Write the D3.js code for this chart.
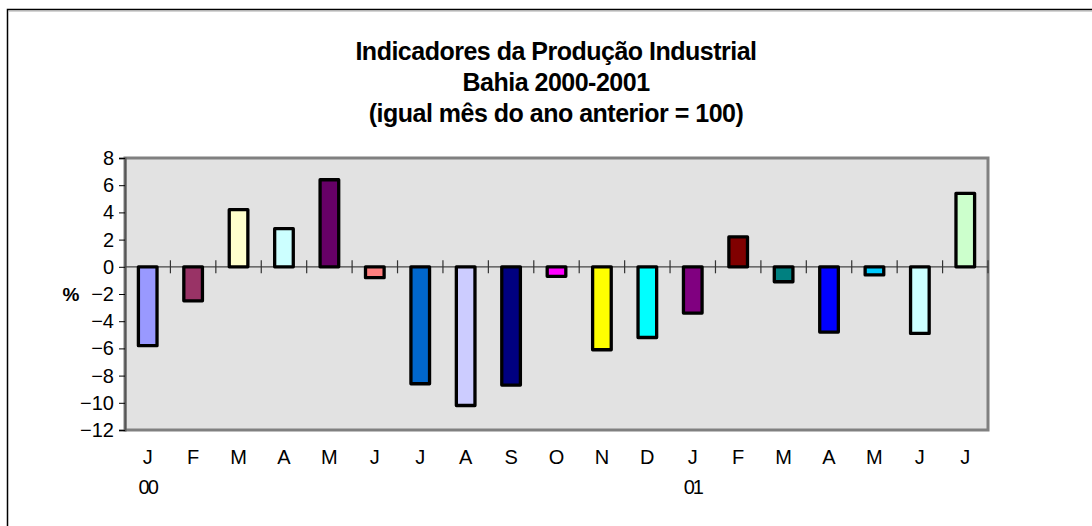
<!DOCTYPE html>
<html>
<head>
<meta charset="utf-8">
<script src="https://cdnjs.cloudflare.com/ajax/libs/d3/7.8.5/d3.min.js"></script>
<style>
  body { margin: 0; background: #fff; }
  text { font-family: Arial, "Liberation Sans", sans-serif; }
</style>
</head>
<body>
<div id="chart"></div>
<script>
// Data
const months = ["J", "F", "M", "A", "M", "J", "J", "A", "S", "O", "N", "D",
                "J", "F", "M", "A", "M", "J", "J"];
const years = ["00", "", "", "", "", "", "", "", "", "", "", "",
               "01", "", "", "", "", "", ""];
const values = [-5.8, -2.5, 4.2, 2.8, 6.4, -0.8, -8.6, -10.2, -8.7, -0.7, -6.1, -5.2,
                -3.4, 2.2, -1.1, -4.8, -0.6, -4.9, 5.4];
const colors = ["#9999FF", "#993366", "#FFFFCC", "#CCFFFF", "#660066", "#FF8080",
                "#0066CC", "#CCCCFF", "#000080", "#FF00FF", "#FFFF00", "#00FFFF",
                "#800080", "#800000", "#008080", "#0000FF", "#00CCFF", "#CCFFFF", "#CCFFCC"];
const yTicks = [8, 6, 4, 2, 0, -2, -4, -6, -8, -10, -12];
const titleLines = ["Indicadores da Produção Industrial", "Bahia 2000-2001",
                    "(igual mês do ano anterior = 100)"];

const width = 1092, height = 526;
const plot = {left: 125, top: 158, right: 988, bottom: 430};

const svg = d3.select("#chart")
    .append("svg")
    .attr("width", width)
    .attr("height", height);

// outer frame (only top and left inside the window)
svg.append("rect")
    .attr("x", 7.5).attr("y", 9.5)
    .attr("width", 1200).attr("height", 700)
    .style("fill", "#fff")
    .style("stroke", "#000")
    .style("stroke-width", 1.5);
svg.append("line")
    .attr("x1", 9).attr("x2", width).attr("y1", 11).attr("y2", 11)
    .style("stroke", "#aaa");

// title
svg.append("g").selectAll("text")
    .data(titleLines)
    .enter()
    .append("text")
    .attr("x", 556)
    .attr("y", (d, i) => 60 + i * 31)
    .attr("text-anchor", "middle")
    .style("font-size", "25px")
    .style("font-weight", "bold")
    .style("letter-spacing", "-0.5px")
    .text(d => d);

const x = d3.scaleBand()
    .domain(d3.range(months.length))
    .range([plot.left, plot.right]);
const y = d3.scaleLinear()
    .domain([-12, 8])
    .range([plot.bottom, plot.top]);

// plot area
svg.append("rect")
    .attr("x", plot.left).attr("y", plot.top)
    .attr("width", plot.right - plot.left)
    .attr("height", plot.bottom - plot.top)
    .style("fill", "#E2E2E2")
    .style("stroke", "#808080")
    .style("stroke-width", 3);

// y axis
const yAxis = svg.append("g")
    .attr("transform", "translate(" + plot.left + ",0)")
    .call(d3.axisLeft(y).tickValues(yTicks).tickSize(6).tickPadding(5));
yAxis.select(".domain").style("stroke", "#555").style("stroke-width", 2);
yAxis.selectAll(".tick line").style("stroke", "#000");
yAxis.selectAll(".tick text")
    .style("font-size", "20px")
    .style("font-family", "Arial, 'Liberation Sans', sans-serif")
    .style("fill", "#000");

svg.append("text")
    .attr("x", 71).attr("y", 301)
    .attr("text-anchor", "middle")
    .style("font-size", "19px")
    .style("font-weight", "bold")
    .text("%");

// zero line with category ticks
svg.append("line")
    .attr("x1", plot.left).attr("x2", plot.right)
    .attr("y1", y(0)).attr("y2", y(0))
    .style("stroke", "#444")
    .style("stroke-width", 1.2);
svg.append("g").selectAll("line")
    .data(d3.range(1, months.length + 1))
    .enter()
    .append("line")
    .attr("x1", d => plot.left + d * x.step())
    .attr("x2", d => plot.left + d * x.step())
    .attr("y1", y(0) - 6.5)
    .attr("y2", y(0) + 6.5)
    .style("stroke", "#333")
    .style("stroke-width", 1.2);

// bars
const barW = x.bandwidth() * 0.41;
svg.append("g").selectAll("rect")
    .data(values)
    .enter()
    .append("rect")
    .attr("x", (d, i) => x(i) + (x.bandwidth() - barW) / 2)
    .attr("y", d => y(Math.max(0, d)))
    .attr("width", barW)
    .attr("height", d => Math.abs(y(d) - y(0)))
    .style("fill", (d, i) => colors[i])
    .style("stroke", "#000")
    .style("stroke-width", 3.3)
    .style("stroke-linejoin", "round");

// x labels
const xl = svg.append("g");
xl.selectAll("text.m")
    .data(months)
    .enter()
    .append("text")
    .attr("class", "m")
    .attr("x", (d, i) => x(i) + x.bandwidth() / 2)
    .attr("y", 464)
    .attr("text-anchor", "middle")
    .style("font-size", "20px")
    .text(d => d);
xl.selectAll("text.yr")
    .data(years)
    .enter()
    .append("text")
    .attr("class", "yr")
    .attr("x", (d, i) => x(i) + x.bandwidth() / 2)
    .attr("y", 494)
    .attr("text-anchor", "middle")
    .style("font-size", "20px")
    .style("letter-spacing", "-2px")
    .text(d => d);
</script>
</body>
</html>
